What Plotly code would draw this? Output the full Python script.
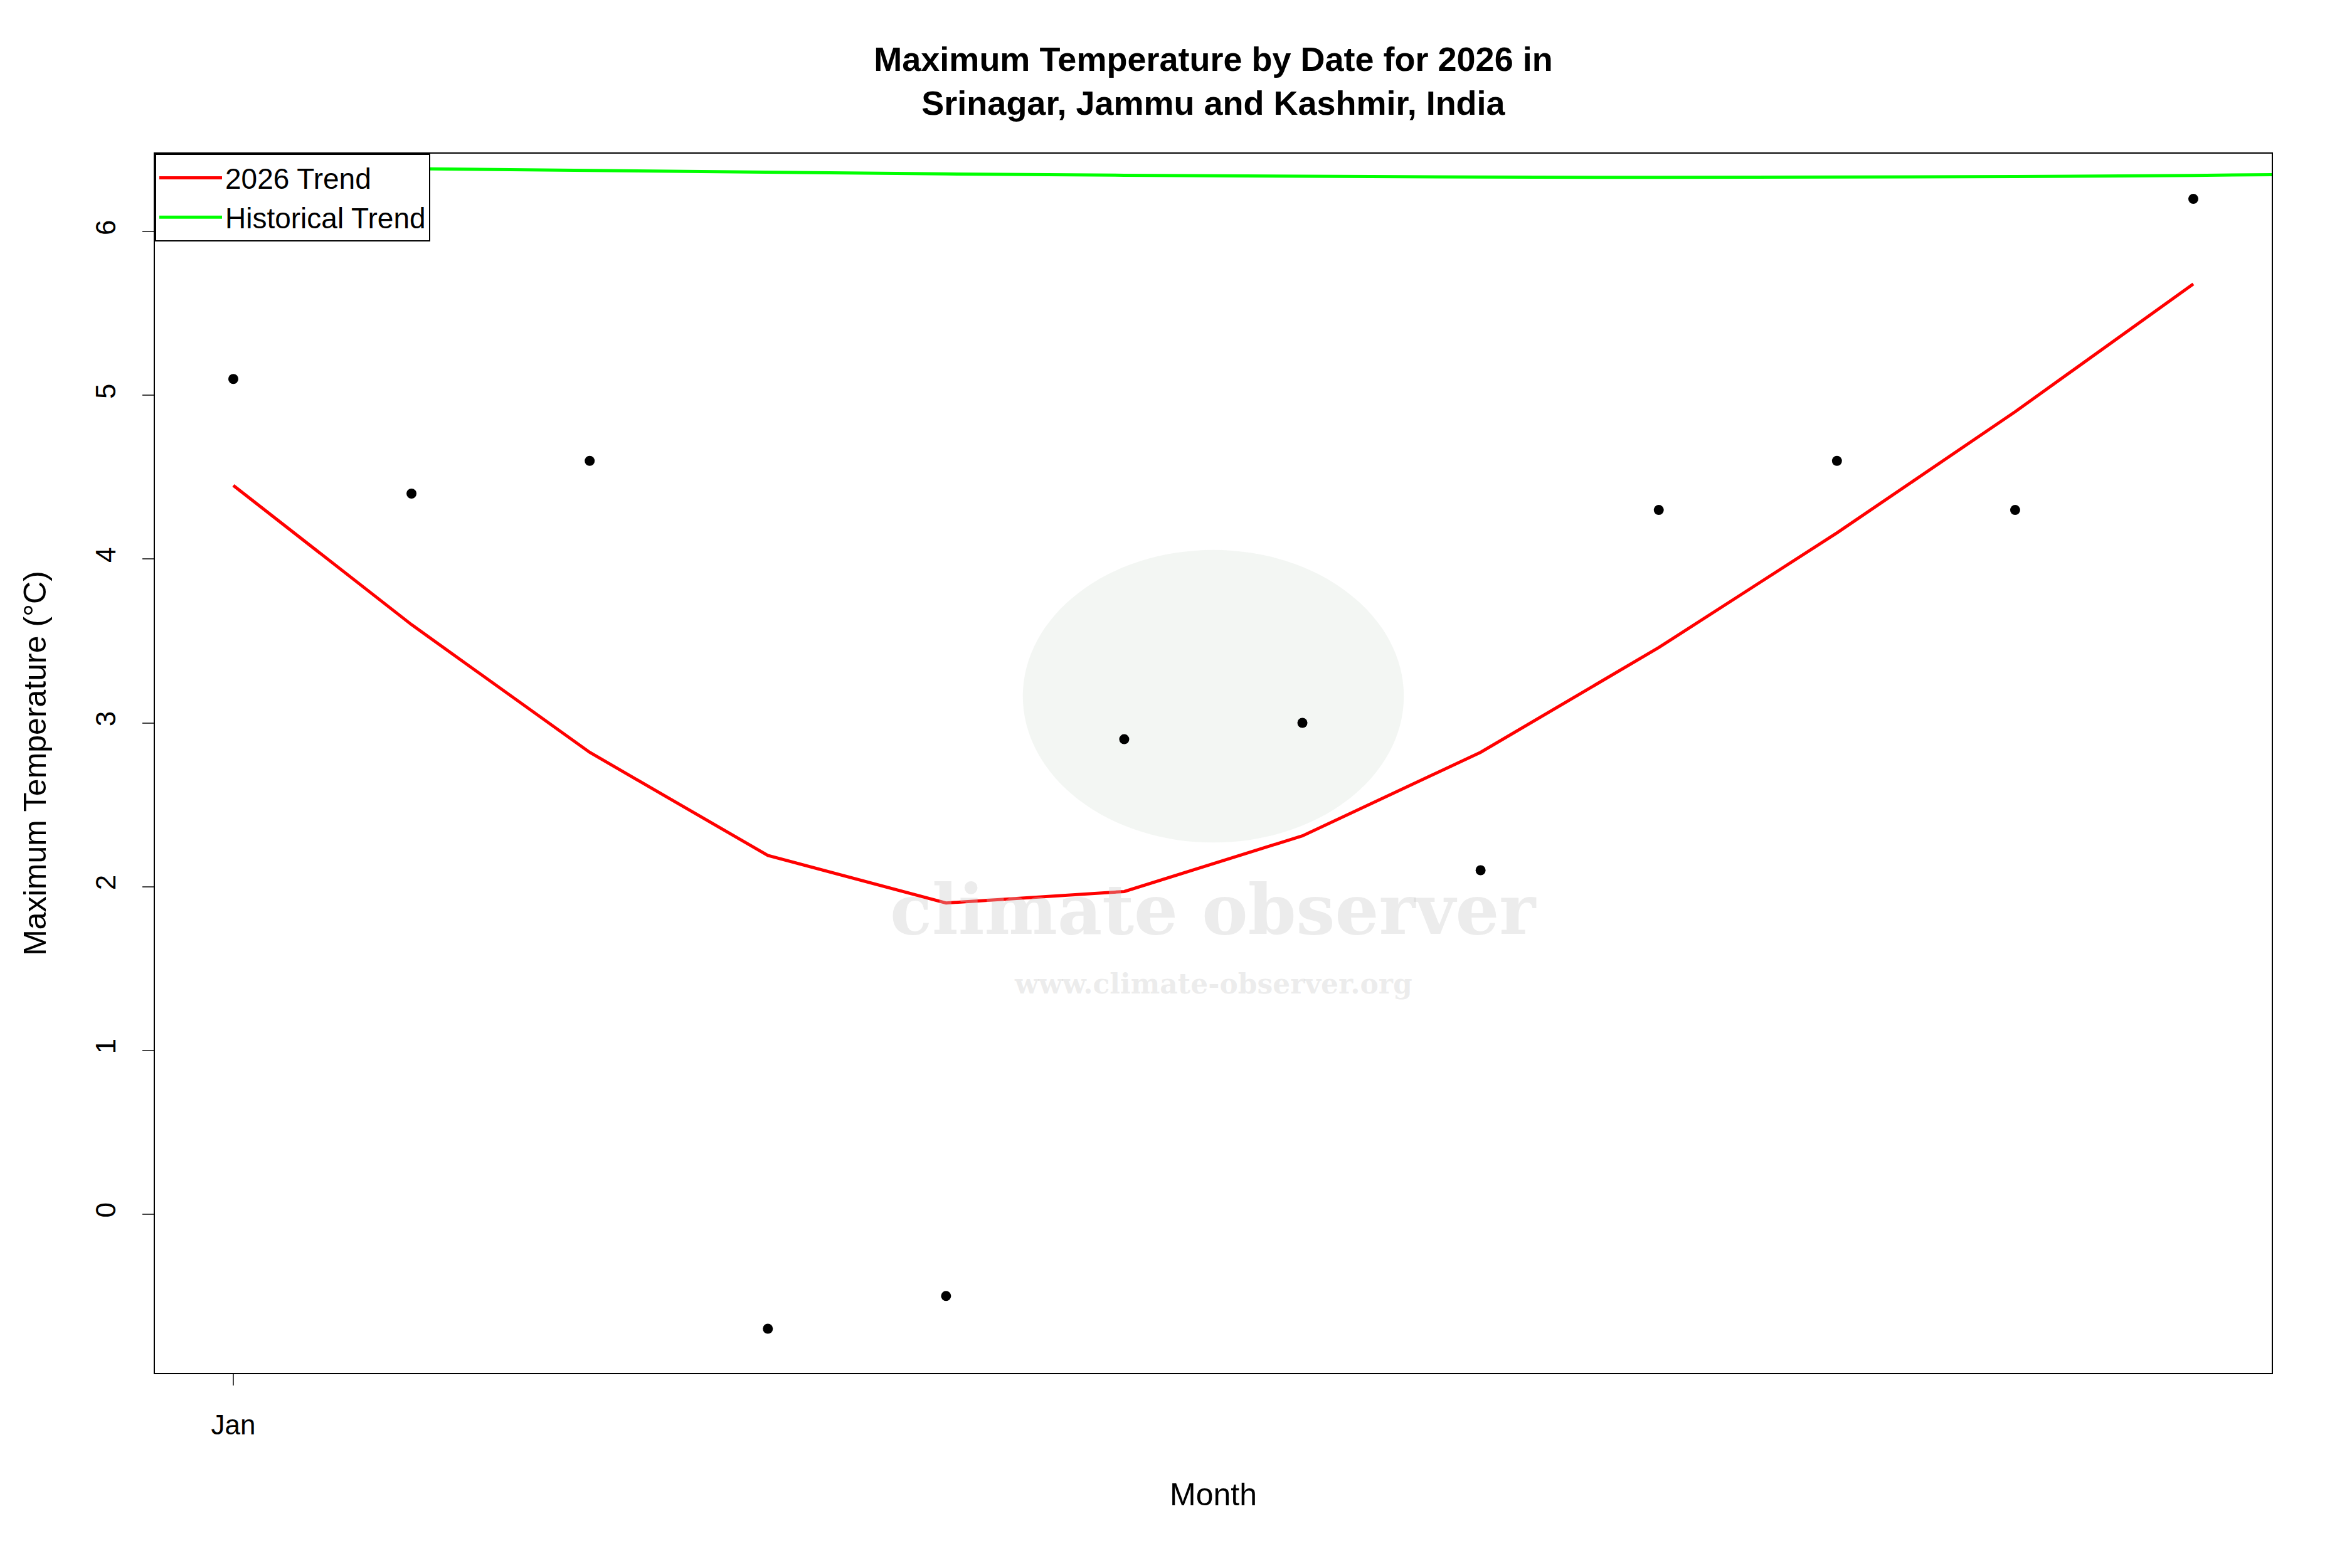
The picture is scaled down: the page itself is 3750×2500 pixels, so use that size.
import plotly.graph_objects as go

days = [1,2,3,4,5,6,7,8,9,10,11,12]
obs = [5.1,4.4,4.6,-0.7,-0.5,2.9,3.0,2.1,4.3,4.6,4.3,6.2]
trend2026 = [4.45,3.6,2.82,2.19,1.9,1.97,2.31,2.82,3.46,4.16,4.9,5.68]
hist_x = [0.56,1,2,3,4,5,6,7,8,9,10,11,12,12.44]
hist_y = [6.40,6.395,6.385,6.372,6.362,6.352,6.344,6.338,6.333,6.331,6.332,6.336,6.343,6.348]
tick_vals = [1]
tick_text = ["Jan"]

F = "Liberation Sans, Arial, sans-serif"
fig = go.Figure()
fig.add_trace(go.Scatter(x=hist_x, y=hist_y, mode="lines", line=dict(color="#00ff00", width=5), name="Historical Trend", legendrank=2))
fig.add_trace(go.Scatter(x=days, y=trend2026, mode="lines", line=dict(color="#ff0000", width=5), name="2026 Trend", legendrank=1))
fig.add_trace(go.Scatter(x=days, y=obs, mode="markers", marker=dict(color="black", size=16), showlegend=False))

fig.add_annotation(x=0.5, y=0.38, xref="paper", yref="paper", text="<b>climate observer</b>", showarrow=False,
                   font=dict(family="DejaVu Serif", size=110, color="rgba(200,200,200,0.35)"))
fig.add_annotation(x=0.5, y=0.305, xref="paper", yref="paper", text="<b>www.climate-observer.org</b>", showarrow=False,
                   font=dict(family="DejaVu Serif", size=44, color="rgba(200,200,200,0.35)"))
fig.add_shape(type="circle", xref="paper", yref="paper", x0=0.41, x1=0.59, y0=0.435, y1=0.675,
              fillcolor="rgba(200,215,200,0.22)", line=dict(width=0), layer="below")

fig.update_layout(
    width=3750, height=2500, plot_bgcolor="white", paper_bgcolor="white",
    margin=dict(l=239, r=136, t=237, b=319),
    font=dict(family=F, size=42, color="black"),
    title=dict(text="<b>Maximum Temperature by Date for 2026 in<br>Srinagar, Jammu and Kashmir, India</b>",
               x=0.5, xref="paper", y=0.958, yanchor="top", font=dict(size=54)),
    xaxis=dict(range=[0.56,12.44], tickvals=tick_vals, ticktext=tick_text, ticks="outside", ticklen=18, tickwidth=2,
               showgrid=False, zeroline=False, showline=True, mirror=True, linecolor="black", linewidth=2,
               ticklabelstandoff=25,
               title=dict(text="Month", standoff=70), tickfont=dict(size=44)),
    yaxis=dict(range=[-0.97,6.476], tickvals=[0,1,2,3,4,5,6], ticks="outside", ticklen=18, tickwidth=2,
               showgrid=False, zeroline=False, showline=True, mirror=True, linecolor="black", linewidth=2,
               ticklabelstandoff=25,
               tickangle=-90, title=dict(text="Maximum Temperature (°C)", standoff=55), tickfont=dict(size=44)),
    legend=dict(x=0, y=1, xanchor="left", yanchor="top", bordercolor="black", borderwidth=2,
                bgcolor="white", font=dict(size=46), tracegroupgap=0, itemwidth=100),
)
fig.write_html("out.html")
